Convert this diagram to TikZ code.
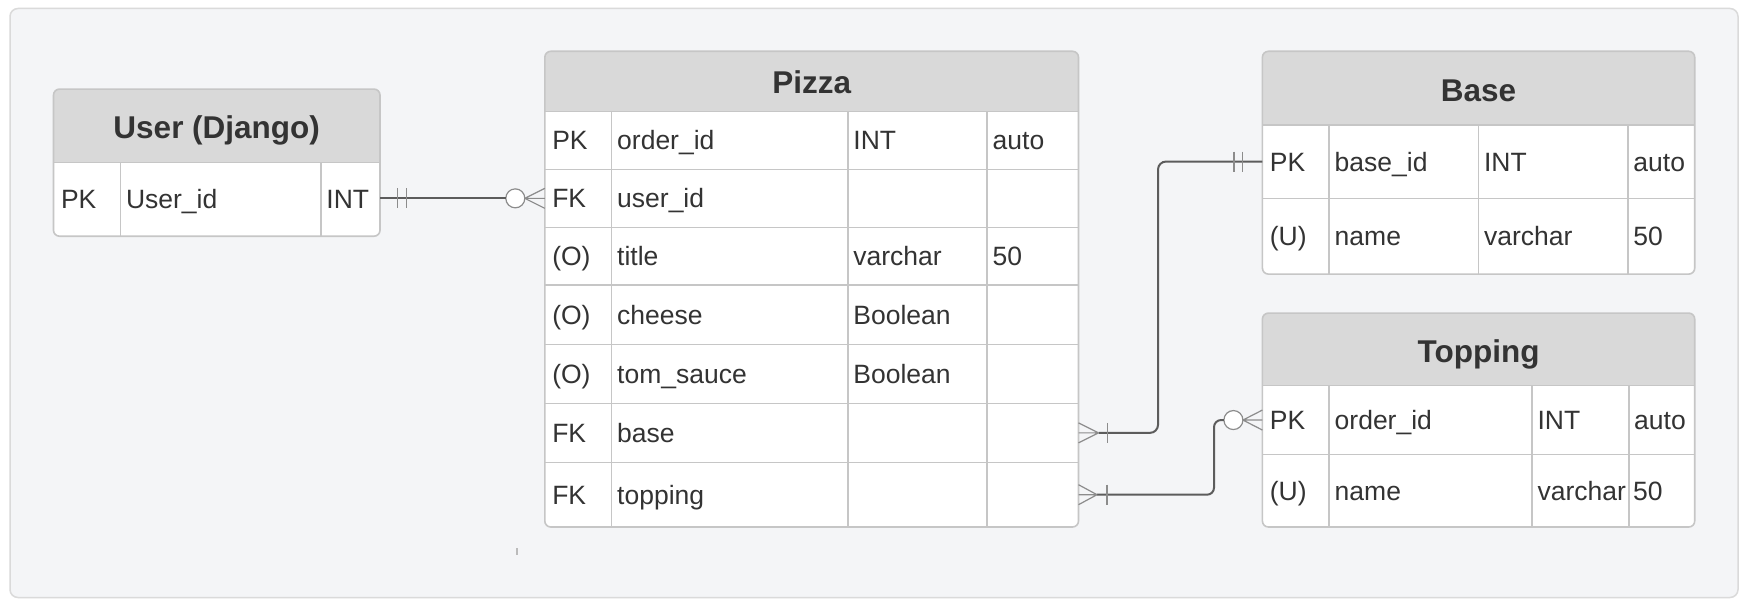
\documentclass[tikz,border=0pt]{standalone}
\usepackage{fontspec}
\setmainfont{Liberation Sans}
\usetikzlibrary{calc}
\definecolor{framefill}{HTML}{F4F5F7}
\definecolor{framedraw}{HTML}{DADADA}
\definecolor{hdrgray}{HTML}{D9D9D9}
\definecolor{gridc}{HTML}{C6C6C6}
\definecolor{txt}{HTML}{333333}
\definecolor{connc}{HTML}{5C5C5C}
\definecolor{footc}{HTML}{8C8C8C}
\definecolor{tickc}{HTML}{BBBBBB}
\newcommand\erbox[5]{%
  \begin{scope}
    \clip[rounded corners=6pt] (#1,#2) rectangle (#3,#5);
    \fill[white] (#1,#2) rectangle (#3,#5);
    \fill[hdrgray] (#1,#2) rectangle (#3,#4);
  \end{scope}}
\begin{document}
\begin{tikzpicture}[x=1pt,y=-1pt,
  cell/.style={anchor=base west, inner sep=0pt, outer sep=0pt, text=txt, font=\fontsize{26.5}{30}\selectfont},
  ttl/.style={anchor=base, inner sep=0pt, outer sep=0pt, text=txt, font=\fontsize{31.5}{36}\selectfont\bfseries},
  grid/.style={draw=gridc, line width=1.5pt},
  outline/.style={draw=gridc, line width=1.6pt, rounded corners=6pt},
  rowbox/.style={inner sep=0pt, outer sep=0pt},
  conn/.style={draw=connc, line width=2pt},
  foot/.style={draw=footc, line width=1.2pt},
  bar/.style={draw=footc, line width=1.3pt},
  optcirc/.style={circle, draw=footc, fill=white, line width=1.2pt, minimum size=19pt, inner sep=0pt, outer sep=0pt}]
\useasboundingbox (0,0) rectangle (1747,607);
\fill[white] (0,0) rectangle (1747,607);
\draw[draw=framedraw, fill=framefill, line width=1.5pt, rounded corners=8pt] (10,8.5) rectangle (1738,597.5);
\draw[tickc, line width=1.5pt] (517,548) -- (517,555);

% ---------- User (Django) ----------
\erbox{53.5}{89.1}{380}{162.7}{236.2}
\draw[grid] (53.5,162.7) -- (380,162.7);
\draw[grid] (120.3,162.7) -- (120.3,236.2) (320.9,162.7) -- (320.9,236.2);
\draw[outline] (53.5,89.1) rectangle (380,236.2);
\node[rowbox, minimum width=326.5pt, minimum height=73.5pt] (uPK) at (216.75,199.45) {};
\node[ttl] (uT) at (216.75,138.6) {User (Django)};
\node[cell] (u1a) at (61,208.95) {PK};
\node[cell] (u1b) at (126,208.95) {User\_id};
\node[cell] (u1c) at (326.4,208.95) {INT};

% ---------- Pizza ----------
\erbox{544.8}{51.3}{1078.5}{111.4}{527}
\foreach \yy in {111.4,169.4,227.3,285.2,344.3,403.3,462.4}
  \draw[grid] (544.8,\yy) -- (1078.5,\yy);
\foreach \xx in {611.7,847.9,987.2}
  \draw[grid] (\xx,111.4) -- (\xx,527);
\draw[outline] (544.8,51.3) rectangle (1078.5,527);
\node[rowbox, minimum width=533.7pt, minimum height=57.9pt] (pUser) at (811.65,198.35) {};
\node[rowbox, minimum width=533.7pt, minimum height=59.1pt] (pBase) at (811.65,432.85) {};
\node[rowbox, minimum width=533.7pt, minimum height=64.6pt] (pTop) at (811.65,494.7) {};
\node[ttl] (pT) at (811.65,94) {Pizza};
\node[cell] (p1a) at (552.3,149.9) {PK};
\node[cell] (p1b) at (617.2,149.9) {order\_id};
\node[cell] (p1c) at (853.4,149.9) {INT};
\node[cell] (p1d) at (992.7,149.9) {auto};
\node[cell] (p2a) at (552.3,207.85) {FK};
\node[cell] (p2b) at (617.2,207.85) {user\_id};
\node[cell] (p3a) at (552.3,265.75) {(O)};
\node[cell] (p3b) at (617.2,265.75) {title};
\node[cell] (p3c) at (853.4,265.75) {varchar};
\node[cell] (p3d) at (992.7,265.75) {50};
\node[cell] (p4a) at (552.3,324.25) {(O)};
\node[cell] (p4b) at (617.2,324.25) {cheese};
\node[cell] (p4c) at (853.4,324.25) {Boolean};
\node[cell] (p5a) at (552.3,383.3) {(O)};
\node[cell] (p5b) at (617.2,383.3) {tom\_sauce};
\node[cell] (p5c) at (853.4,383.3) {Boolean};
\node[cell] (p6a) at (552.3,442.35) {FK};
\node[cell] (p6b) at (617.2,442.35) {base};
\node[cell] (p7a) at (552.3,504.2) {FK};
\node[cell] (p7b) at (617.2,504.2) {topping};

% ---------- Base ----------
\erbox{1262.4}{51.3}{1694.7}{124.8}{274.1}
\draw[grid] (1262.4,124.8) -- (1694.7,124.8) (1262.4,198.3) -- (1694.7,198.3);
\foreach \xx in {1329.2,1478.5,1627.9}
  \draw[grid] (\xx,124.8) -- (\xx,274.1);
\draw[outline] (1262.4,51.3) rectangle (1694.7,274.1);
\node[rowbox, minimum width=432.3pt, minimum height=73.5pt] (bPK) at (1478.55,161.55) {};
\node[ttl] (bT) at (1478.55,101.4) {Base};
\node[cell] (b1a) at (1269.9,171.05) {PK};
\node[cell] (b1b) at (1334.7,171.05) {base\_id};
\node[cell] (b1c) at (1484,171.05) {INT};
\node[cell] (b1d) at (1633.4,171.05) {auto};
\node[cell] (b2a) at (1269.9,245.7) {(U)};
\node[cell] (b2b) at (1334.7,245.7) {name};
\node[cell] (b2c) at (1484,245.7) {varchar};
\node[cell] (b2d) at (1633.4,245.7) {50};

% ---------- Topping ----------
\erbox{1262.4}{313.1}{1694.7}{385.5}{527}
\draw[grid] (1262.4,385.5) -- (1694.7,385.5) (1262.4,454.6) -- (1694.7,454.6);
\foreach \xx in {1329.2,1532,1629}
  \draw[grid] (\xx,385.5) -- (\xx,527);
\draw[outline] (1262.4,313.1) rectangle (1694.7,527);
\node[rowbox, minimum width=432.3pt, minimum height=69.1pt] (tPK) at (1478.55,420.05) {};
\node[ttl] (tT) at (1478.55,362) {Topping};
\node[cell] (t1a) at (1269.9,429.55) {PK};
\node[cell] (t1b) at (1334.7,429.55) {order\_id};
\node[cell] (t1c) at (1537.5,429.55) {INT};
\node[cell] (t1d) at (1634.2,429.55) {auto};
\node[cell] (t2a) at (1269.9,500.3) {(U)};
\node[cell] (t2b) at (1334.7,500.3) {name};
\node[cell] (t2c) at (1537.5,500.3) {varchar};
\node[cell] (t2d) at (1633,500.3) {50};

% ---------- Connector User -> Pizza ----------
\node[optcirc] (o1) at ($(pUser.west)+(-29.5,0)$) {};
\draw[conn] (uPK.east |- pUser.west) -- (o1.west);
\draw[bar] ($(uPK.east |- pUser.west)+(17.5,-10)$) -- ++(0,20);
\draw[bar] ($(uPK.east |- pUser.west)+(26.5,-10)$) -- ++(0,20);
\draw[foot] (o1.east) -- ($(pUser.west)+(0,-10)$)
            (o1.east) -- (pUser.west)
            (o1.east) -- ($(pUser.west)+(0,10)$);

% ---------- Connector Pizza.base -> Base ----------
\coordinate (bxv) at (1158,0);
\draw[conn, rounded corners=8pt] ($(pBase.east)+(20,0)$) -| (bxv |- bPK.west) -- (bPK.west);
\draw[foot] ($(pBase.east)+(20,0)$) -- ($(pBase.east)+(0,-10)$)
            ($(pBase.east)+(20,0)$) -- (pBase.east)
            ($(pBase.east)+(20,0)$) -- ($(pBase.east)+(0,10)$);
\draw[bar] ($(pBase.east)+(29,-10)$) -- ++(0,20);
\draw[bar] ($(bPK.west)+(-28.5,-10)$) -- ++(0,20);
\draw[bar] ($(bPK.west)+(-19.7,-10)$) -- ++(0,20);

% ---------- Connector Pizza.topping -> Topping ----------
\node[optcirc] (o3) at ($(tPK.west)+(-29,0)$) {};
\coordinate (txv) at (1214,0);
\draw[conn, rounded corners=7pt] ($(pTop.east)+(18.5,0)$) -| (txv |- o3.west) -- (o3.west);
\draw[foot] ($(pTop.east)+(18.5,0)$) -- ($(pTop.east)+(0,-10)$)
            ($(pTop.east)+(18.5,0)$) -- (pTop.east)
            ($(pTop.east)+(18.5,0)$) -- ($(pTop.east)+(0,10)$);
\draw[bar] ($(pTop.east)+(28.5,-10)$) -- ++(0,20);
\draw[foot] (o3.east) -- ($(tPK.west)+(0,-10)$)
            (o3.east) -- (tPK.west)
            (o3.east) -- ($(tPK.west)+(0,10)$);
\end{tikzpicture}
\end{document}
